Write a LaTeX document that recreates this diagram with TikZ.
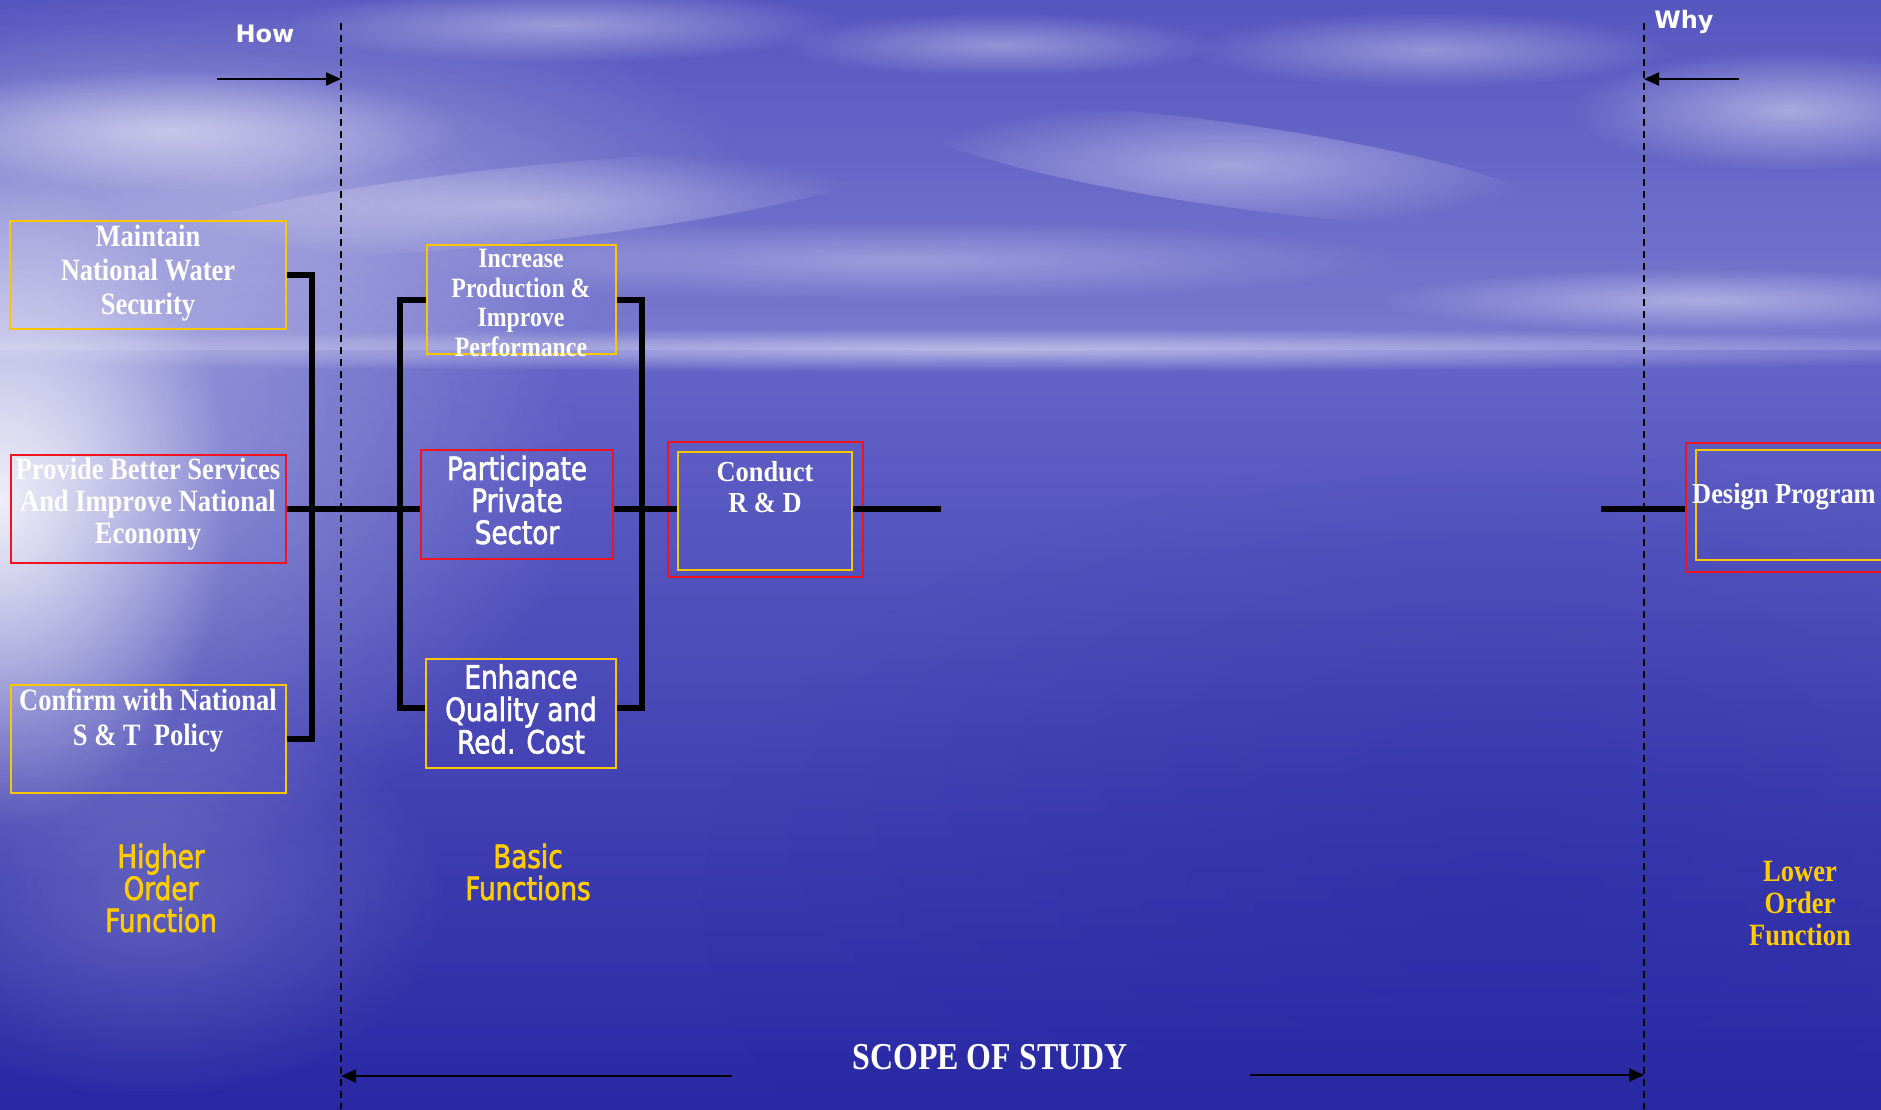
\documentclass[tikz,border=0pt]{standalone}
\usepackage{fontspec}
\usetikzlibrary{arrows.meta,fadings,calc}
\newfontfamily\serA[FakeStretch=0.855]{Liberation Serif}
\newfontfamily\serI[FakeStretch=0.85]{Liberation Serif}
\newfontfamily\serB[FakeStretch=0.91]{Liberation Serif}
\newfontfamily\serS[FakeStretch=0.84]{Liberation Serif}
\newfontfamily\sanC[FakeStretch=0.82,FakeBold=2]{DejaVu Sans}
\newfontfamily\sanN{DejaVu Sans}
\definecolor{gold}{RGB}{255,204,0}
\definecolor{boxred}{RGB}{240,20,30}
\definecolor{boxyel}{RGB}{250,198,0}
\definecolor{sky1}{RGB}{86,86,192}
\definecolor{sky2}{RGB}{122,122,208}
\definecolor{sea1}{RGB}{100,100,200}
\definecolor{sea2}{RGB}{40,40,164}
\tikzfading[name=fuzzy, inner color=transparent!0, outer color=transparent!100]
\begin{document}
\begin{tikzpicture}[x=1pt,y=-1pt,
  ybox/.style={draw=boxyel, line width=2pt, rectangle, inner sep=0pt},
  rbox/.style={draw=boxred, line width=2pt, rectangle, inner sep=0pt},
  wtext/.style={text=white, align=center, inner sep=0pt},
  gtext/.style={text=gold, align=center, inner sep=0pt},
  conn/.style={line width=6pt, draw=black},
  dashline/.style={line width=2pt, draw=black, dash pattern=on 7pt off 5pt},
  arr/.style={line width=2.2pt, draw=black, -{Triangle[length=15pt,width=13pt]}},
  cloud/.style={fill=white, path fading=fuzzy}
]
\useasboundingbox (0,0) rectangle (1881,1109);
\begin{scope}
\clip (0,0) rectangle (1881,1109);
% background
\shade[top color=sky1, bottom color=sky2] (0,0) rectangle (1881,352);
\shade[top color=sea1, bottom color=sea2] (0,350) rectangle (1881,1109);
\fill[sea2, path fading=fuzzy, opacity=0.45] (1500,900) ellipse (800 and 450);
% clouds
\fill[cloud, opacity=0.30] (250,180) ellipse (500 and 200);
\fill[cloud, opacity=0.40] (560,25) ellipse (280 and 38);
\fill[cloud, opacity=0.35] (1000,45) ellipse (220 and 32);
\fill[cloud, opacity=0.50] (170,130) ellipse (300 and 60);
\fill[cloud, opacity=0.40, rotate around={6:(520,205)}] (520,205) ellipse (360 and 38);
\fill[cloud, opacity=0.35] (1430,50) ellipse (240 and 38);
\fill[cloud, opacity=0.40, rotate around={-8:(1230,165)}] (1230,165) ellipse (320 and 42);
\fill[cloud, opacity=0.45] (1790,110) ellipse (220 and 60);
\fill[cloud, opacity=0.40] (1700,300) ellipse (320 and 32);
\fill[cloud, opacity=0.30] (900,260) ellipse (500 and 40);
\fill[cloud, opacity=0.50] (1000,350) ellipse (1200 and 22);
% left glare
\fill[cloud, opacity=0.40] (60,450) ellipse (520 and 430);
\fill[cloud, opacity=0.85] (0,500) ellipse (230 and 330);
\fill[cloud, opacity=0.20] (150,900) ellipse (300 and 200);

% scope lines
\coordinate (howtop) at (341,23);
\coordinate (howbot) at (341,1109);
\coordinate (whytop) at (1644,23);
\coordinate (whybot) at (1644,1109);
\draw[dashline] (howtop) -- (howbot);
\draw[dashline] (whytop) -- (whybot);

\node[text=white, font=\sanN\bfseries\fontsize{24}{28}\selectfont] (how) at (265,34) {How};
\node[text=white, font=\sanN\bfseries\fontsize{24}{28}\selectfont] (why) at (1684,22) {Why};
\coordinate (howarr) at (217,79);
\coordinate (whyarr) at (1739,79);
\draw[arr] (howarr) -- (howarr -| howtop);
\draw[arr] (whyarr) -- (whyarr -| whytop);

\node[text=white, font=\serS\bfseries\fontsize{38}{42}\selectfont] (scope) at (990,1057) {SCOPE OF STUDY};
\coordinate (scl) at (732,1076);
\coordinate (scr) at (1250,1075);
\draw[arr] (scl) -- (scl -| howtop);
\draw[arr] (scr) -- (scr -| whytop);

% boxes
\node[ybox, minimum width=276, minimum height=108] (maintain) at (148,275) {};
\node[rbox, minimum width=275, minimum height=108] (provide) at (148.5,509) {};
\node[ybox, minimum width=275, minimum height=108] (confirm) at (148.5,739) {};
\node[ybox, minimum width=189, minimum height=109] (increase) at (521.5,299.5) {};
\node[rbox, minimum width=192, minimum height=109] (participate) at (517,504.5) {};
\node[ybox, minimum width=190, minimum height=109] (enhance) at (521,713.5) {};
\node[rbox, minimum width=195, minimum height=135] (conductout) at (765.5,509.5) {};
\node[ybox, minimum width=174, minimum height=118] (conductin) at (765,511) {};
\node[rbox, minimum width=240, minimum height=129] (designout) at (1806,507.5) {};
\node[ybox, minimum width=220, minimum height=110] (designin) at (1806,505) {};

% box texts
\node[wtext, font=\serA\bfseries\fontsize{31}{34}\selectfont] (maintaintxt) at (148,273) {Maintain\\National Water\\Security};
\node[wtext, font=\serA\bfseries\fontsize{31}{32}\selectfont] (providetxt) at (148,504) {Provide Better Services\\And Improve National\\Economy};
\node[wtext, font=\serA\bfseries\fontsize{31}{35}\selectfont] (confirmtxt) at (148,720) {Confirm with National\\S \& T\ \ Policy};
\node[wtext, font=\serI\bfseries\fontsize{28}{29.5}\selectfont] (increasetxt) at (521,303) {Increase\\Production \&\\Improve\\Performance};
\node[wtext, font=\sanC\fontsize{32}{32}\selectfont] (participatetxt) at (517,500) {Participate\\Private\\Sector};
\node[wtext, font=\sanC\fontsize{32}{32.5}\selectfont] (enhancetxt) at (521,709) {Enhance\\Quality and\\Red. Cost};
\node[wtext, font=\serB\bfseries\fontsize{29}{31}\selectfont] (conducttxt) at (765,487) {Conduct\\R \& D};
\node[wtext, font=\serB\bfseries\fontsize{29}{31}\selectfont, anchor=west] (designtxt) at (1692,497) {Design Program};

% connectors
\coordinate (lb) at (312,509);
\draw[conn] (maintain.east) -| (lb) |- (confirm.east);
\draw[conn] (provide.east) -- (provide.east -| participate.west);
\coordinate (mb) at (400,509);
\draw[conn] (increase.west) -| (mb) |- ([yshift=6pt]enhance.west);
\coordinate (rb) at (642,509);
\draw[conn] (increase.east) -| (rb) |- ([yshift=6pt]enhance.east);
\draw[conn] (participate.east |- provide.east) -- (conductin.west |- provide.east);
\coordinate (cdend) at (941,509);
\draw[conn] (conductin.east |- cdend) -- (cdend);
\coordinate (dpstart) at (1601,509);
\draw[conn] (dpstart) -- (dpstart -| designout.west);

% labels
\node[gtext, font=\sanC\fontsize{32}{32}\selectfont] (higher) at (161,888) {Higher\\Order\\Function};
\node[gtext, font=\sanC\fontsize{32}{32}\selectfont] (basic) at (528,872) {Basic\\Functions};
\node[gtext, font=\serA\bfseries\fontsize{31}{32}\selectfont] (lower) at (1800,904) {Lower\\Order\\Function};
\end{scope}
\end{tikzpicture}
\end{document}
